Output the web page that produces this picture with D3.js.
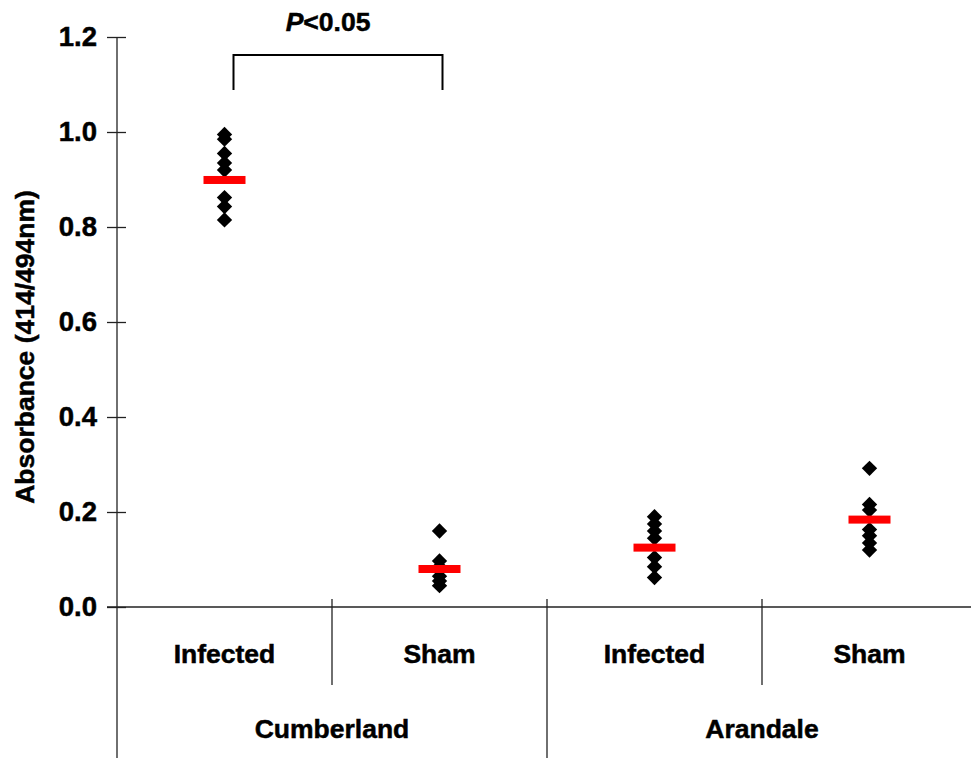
<!DOCTYPE html>
<html>
<head>
<meta charset="utf-8">
<script src="https://cdn.jsdelivr.net/npm/d3@7"></script>
<style>
  html, body { margin: 0; padding: 0; background: #fff; }
  svg { display: block; font-family: "Liberation Sans", Arial, sans-serif; font-weight: bold; }
  svg text { stroke: #000; stroke-width: 0.5px; }
</style>
</head>
<body>
<svg id="chart" width="971" height="758"></svg>
<script>
// ---- data ----
const groups = ["Cumberland", "Arandale"];
const categories = ["Cumberland Infected", "Cumberland Sham", "Arandale Infected", "Arandale Sham"];
const subLabels = ["Infected", "Sham", "Infected", "Sham"];
const cumberlandInfected = [0.995, 0.985, 0.955, 0.935, 0.92, 0.862, 0.843, 0.815];
const cumberlandSham = [0.16, 0.097, 0.085, 0.065, 0.055, 0.045];
const arandaleInfected = [0.19, 0.175, 0.16, 0.145, 0.104, 0.085, 0.062];
const arandaleSham = [0.292, 0.216, 0.204, 0.163, 0.15, 0.135, 0.12];
const seriesValues = [cumberlandInfected, cumberlandSham, arandaleInfected, arandaleSham];
const meanValues = [0.899, 0.08, 0.125, 0.184];
const yTicks = [0, 0.2, 0.4, 0.6, 0.8, 1.0, 1.2];
const yLabel = "Absorbance (414/494nm)";
const sigLabel = "P<0.05";

// ---- layout ----
const svg = d3.select("#chart");
const axisX = 117, y0px = 607, ytop = 37;
const x = d3.scaleBand().domain(categories).range([axisX, axisX + 4 * 215]).padding(0);
const y = d3.scaleLinear().domain([0, 1.2]).range([y0px, ytop]);
const ink = "#222";
const fs = 26.5;

// y axis
const yAxis = d3.axisLeft(y).tickValues(yTicks).tickFormat(d3.format(".1f"))
  .tickSizeInner(10).tickSizeOuter(0).tickPadding(9);
const gy = svg.append("g").attr("transform", `translate(${axisX},0)`).call(yAxis);
gy.select(".domain").remove();
gy.selectAll(".tick line").attr("x2", -10).attr("x1", 9).attr("stroke", ink).attr("stroke-width", 1.3);
gy.selectAll(".tick text").attr("font-size", 27.5).attr("font-family", "Liberation Sans, Arial, sans-serif")
  .attr("font-weight", "bold").attr("fill", "#000").attr("x", -20);
svg.append("line").attr("x1", axisX).attr("x2", axisX).attr("y1", ytop).attr("y2", 758)
  .attr("stroke", ink).attr("stroke-width", 1.3);

// x axis line
svg.append("line").attr("x1", axisX - 10).attr("x2", 971).attr("y1", y0px).attr("y2", y0px)
  .attr("stroke", ink).attr("stroke-width", 1.3);

// category dividers
const bounds = categories.slice(1).map(c => x(c));
bounds.forEach((b, i) => {
  svg.append("line").attr("x1", b).attr("x2", b).attr("y1", y0px - 8)
    .attr("y2", i === 1 ? 758 : 685).attr("stroke", ink).attr("stroke-width", 1.3);
});

// sub labels
svg.selectAll("text.sub").data(categories).enter().append("text")
  .attr("class", "sub")
  .attr("x", d => x(d) + x.bandwidth() / 2)
  .attr("y", 663)
  .attr("text-anchor", "middle")
  .attr("font-size", fs)
  .text((d, i) => subLabels[i]);

// group labels
groups.forEach((g, i) => {
  const cx = (x(categories[2 * i]) + x(categories[2 * i + 1]) + x.bandwidth()) / 2;
  svg.append("text").attr("x", cx).attr("y", 738).attr("text-anchor", "middle")
    .attr("font-size", fs).text(g);
});

// y label
svg.append("text")
  .attr("transform", `translate(34,347) rotate(-90)`)
  .attr("text-anchor", "middle").attr("font-size", fs).text(yLabel);

// points
const diamond = d3.symbol().type(d3.symbolDiamond2).size(150);
categories.forEach((c, i) => {
  svg.append("g").selectAll("path").data(seriesValues[i]).enter().append("path")
    .attr("d", diamond)
    .attr("transform", d => `translate(${x(c) + x.bandwidth() / 2},${y(d)})`)
    .attr("fill", "#000");
});

// mean bars
svg.append("g").selectAll("rect").data(meanValues).enter().append("rect")
  .attr("x", (d, i) => x(categories[i]) + x.bandwidth() / 2 - 21)
  .attr("y", d => y(d) - 4)
  .attr("width", 42).attr("height", 8)
  .attr("fill", "#f00");

// significance bracket
const bx1 = x(categories[0]) + x.bandwidth() / 2 + 9;
const bx2 = x(categories[1]) + x.bandwidth() / 2 + 3;
svg.append("path")
  .attr("d", `M${bx1},90 V55 H${bx2} V90`)
  .attr("fill", "none").attr("stroke", "#000").attr("stroke-width", 2);
const st = svg.append("text").attr("x", 328).attr("y", 31)
  .attr("text-anchor", "middle").attr("font-size", fs);
st.append("tspan").attr("font-style", "italic").text(sigLabel.slice(0, 1));
st.append("tspan").text(sigLabel.slice(1));
</script>
</body>
</html>
